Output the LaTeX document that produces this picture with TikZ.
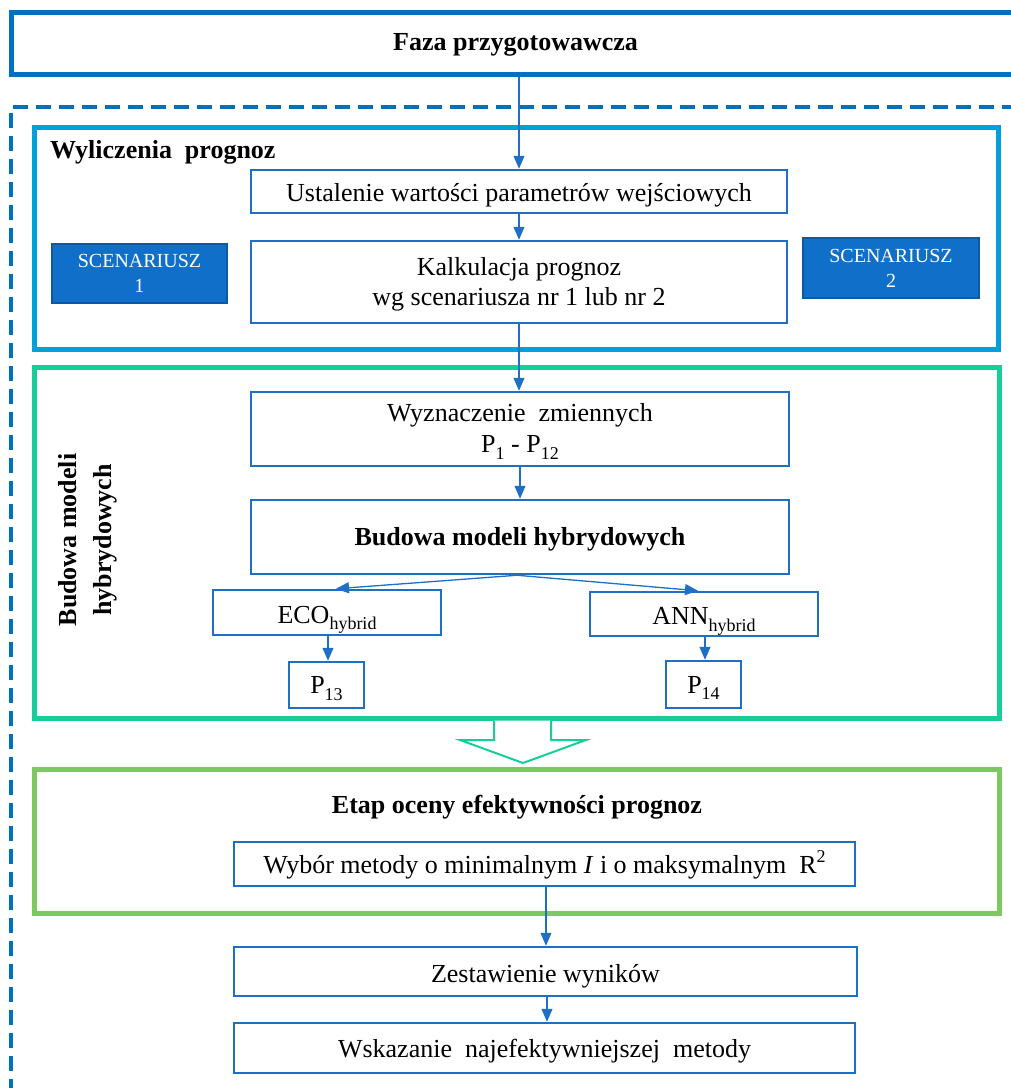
\documentclass[tikz,border=0pt]{standalone}
\usepackage{fontspec}
\setmainfont{Liberation Serif}
\usetikzlibrary{arrows.meta,calc}

\definecolor{deepblue}{RGB}{0,112,192}
\definecolor{boxblue}{RGB}{31,111,198}
\definecolor{skyblue}{RGB}{0,160,220}
\definecolor{tealgreen}{RGB}{22,207,152}
\definecolor{limegreen}{RGB}{126,200,98}
\definecolor{scenfill}{RGB}{16,111,200}
\definecolor{scenedge}{RGB}{14,90,160}

\newcommand{\setfs}[2]{\fontsize{#1}{#2}\selectfont}
\newcommand{\lowtext}[1]{\raisebox{-0.25em}{\setfs{18}{18}#1}}
\newcommand{\hightext}[1]{\raisebox{0.42em}{\setfs{18}{18}#1}}
% extra height on a first line pushes a two-line block slightly down
\newcommand{\topstrut}{\rule{0pt}{23pt}}

\tikzset{
  flowbox/.style={draw=boxblue, line width=2.5pt, fill=white, inner sep=0pt,
    align=center, font=\setfs{26}{30}},
  oneline/.style={text height=19pt, text depth=0pt},
  scenbox/.style={draw=scenedge, line width=1.5pt, fill=scenfill, text=white,
    inner sep=0pt, align=center, font=\setfs{20}{25}},
  frame/.style={line width=5pt},
  conn/.style={boxblue, line width=1.3pt, -{Triangle[length=13pt,width=11pt]}},
  titletext/.style={font=\bfseries\setfs{26}{30}, inner sep=0pt}
}

\begin{document}
\begin{tikzpicture}[x=1pt,y=-1pt]
\useasboundingbox (0,0) rectangle (1011,1088);
\clip (0,0) rectangle (1011,1088);

% outer dashed region
\draw[deepblue, line width=3.5pt, dash pattern=on 15pt off 8pt]
  (1040,107) -- (11,107) -- (11,1110);

% preparation phase
\node[draw=deepblue, line width=5pt, fill=white, minimum width=1009pt,
  minimum height=62.5pt, inner sep=0pt, text height=14pt, text depth=0pt,
  font=\bfseries\setfs{26}{30}]
  (faza) at (515.5,43.25) {Faza przygotowawcza};

% section frames
\draw[frame, skyblue] (34.5,127) rectangle (998,349);
\draw[frame, tealgreen] (34.5,367) rectangle (999,718);
\draw[frame, limegreen] (34.5,769) rectangle (999,913);

% section titles
\node[titletext, anchor=base west] (wyltitle) at (50,158) {Wyliczenia\ \ prognoz};
\node[titletext, anchor=base] (etaptitle) at (517,813) {Etap oceny efektywności prognoz};
\node[titletext, rotate=90, align=center, font=\bfseries\setfs{26}{35}] (side) at (88,540)
  {Budowa modeli\\hybrydowych};

% forecast calculation
\node[flowbox, oneline, minimum width=536pt, minimum height=43pt] (ustal) at (519,191.5)
  {Ustalenie wartości parametrów wejściowych};
\node[flowbox, minimum width=536pt, minimum height=82pt] (kalk) at (519,282)
  {\topstrut Kalkulacja prognoz\\wg scenariusza nr 1 lub nr 2};
\node[scenbox, minimum width=175pt, minimum height=59pt] (sc1) at (139.5,273.5)
  {SCENARIUSZ\\1};
\node[scenbox, minimum width=176pt, minimum height=60pt] (sc2) at (891,268)
  {SCENARIUSZ\\2};

% hybrid models
\node[flowbox, minimum width=538pt, minimum height=74pt, font=\setfs{26}{31}] (wyzn) at (520,429)
  {\topstrut Wyznaczenie\ \ zmiennych\\P\lowtext{1} - P\lowtext{12}};
\node[flowbox, oneline, minimum width=538pt, minimum height=74pt, text height=17pt,
  font=\bfseries\setfs{26}{30}] (bud) at (520,537)
  {Budowa modeli hybrydowych};
\node[flowbox, oneline, minimum width=228pt, minimum height=45pt, text height=21pt] (eco) at (327,612.5)
  {ECO\lowtext{hybrid}};
\node[flowbox, oneline, minimum width=228pt, minimum height=44pt, text height=21pt] (ann) at (704,614)
  {ANN\lowtext{hybrid}};
\node[flowbox, oneline, minimum width=75pt, minimum height=46pt, text height=17pt] (p13) at (326.5,685)
  {P\lowtext{13}};
\node[flowbox, oneline, minimum width=75pt, minimum height=47pt, text height=17pt] (p14) at (703.5,684.5)
  {P\lowtext{14}};

% hollow transition arrow
\draw[tealgreen, line width=2pt, fill=white, line join=miter]
  (494,720.5) -- (494,740) -- (460,740) -- (523,763) -- (586,740)
  -- (551,740) -- (551,720.5);

% evaluation
\node[flowbox, oneline, minimum width=621pt, minimum height=44pt, text height=18pt] (wyb) at (544.5,864)
  {Wybór metody o minimalnym \textit{I} i o maksymalnym\ \ R\hightext{2}};
\node[flowbox, oneline, minimum width=623pt, minimum height=49pt, text height=21pt] (zest) at (545.5,971.5)
  {Zestawienie wyników};
\node[flowbox, oneline, minimum width=621pt, minimum height=50pt, text height=18pt] (wsk) at (544.5,1048)
  {Wskazanie\ \ najefektywniejszej\ \ metody};

% connectors
\draw[conn] (faza.south -| ustal.north) -- (ustal.north);
\draw[conn] (ustal.south) -- (kalk.north);
\draw[conn] (kalk.south) -- (kalk.south |- wyzn.north);
\draw[conn] (wyzn.south) -- (bud.north);
\draw[conn] ([xshift=-3pt]bud.south) -- ([xshift=9pt]eco.north);
\draw[conn] ([xshift=-3pt]bud.south) -- ([xshift=-6pt]ann.north);
\draw[conn] ([xshift=1pt]eco.south) -- ([xshift=1pt]eco.south |- p13.north);
\draw[conn] ([xshift=1pt]ann.south) -- ([xshift=1pt]ann.south |- p14.north);
\draw[conn] ([xshift=1.5pt]wyb.south) -- ([xshift=1.5pt]wyb.south |- zest.north);
\draw[conn] ([xshift=1.5pt]zest.south) -- ([xshift=1.5pt]zest.south |- wsk.north);
\end{tikzpicture}
\end{document}
